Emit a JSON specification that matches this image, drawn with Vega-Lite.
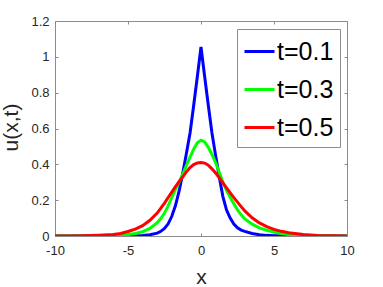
{
"$schema": "https://vega.github.io/schema/vega-lite/v6.json",
"width": 292, "height": 215,
"autosize": {"type": "none"},
"padding": {"left": 55, "top": 21, "right": 36, "bottom": 51},
"background": "white",
"config": {
  "font": "Liberation Sans",
  "view": {"stroke": null},
  "axis": {"grid": false, "domainColor": "#8c8c8c", "tickColor": "#8c8c8c", "tickSize": -3, "labelFontSize": 13, "labelFlush": false, "labelOverlap": false, "labelColor": "#262626", "titleColor": "#262626", "titleFontWeight": "normal", "titleFontSize": 21, "labelFont": "Liberation Sans", "titleFont": "Liberation Sans"}
},
"data": {"values": [
{"x":-10,"u":0,"t":"t=0.1"},{"x":-9,"u":0,"t":"t=0.1"},{"x":-8,"u":0,"t":"t=0.1"},{"x":-7,"u":0.0001,"t":"t=0.1"},{"x":-6,"u":0.0002,"t":"t=0.1"},{"x":-5.5,"u":0.0004,"t":"t=0.1"},{"x":-5,"u":0.0008,"t":"t=0.1"},{"x":-4.5,"u":0.0015,"t":"t=0.1"},{"x":-4,"u":0.003,"t":"t=0.1"},{"x":-3.5,"u":0.007,"t":"t=0.1"},{"x":-3,"u":0.016,"t":"t=0.1"},{"x":-2.75,"u":0.026,"t":"t=0.1"},{"x":-2.5,"u":0.042,"t":"t=0.1"},{"x":-2.25,"u":0.068,"t":"t=0.1"},{"x":-2,"u":0.11,"t":"t=0.1"},{"x":-1.75,"u":0.17,"t":"t=0.1"},{"x":-1.5,"u":0.25,"t":"t=0.1"},{"x":-1.25,"u":0.35,"t":"t=0.1"},{"x":-1,"u":0.46,"t":"t=0.1"},{"x":-0.75,"u":0.575,"t":"t=0.1"},{"x":-0.5,"u":0.73,"t":"t=0.1"},{"x":-0.25,"u":0.89,"t":"t=0.1"},{"x":0,"u":1.055,"t":"t=0.1"},{"x":0.25,"u":0.89,"t":"t=0.1"},{"x":0.5,"u":0.73,"t":"t=0.1"},{"x":0.75,"u":0.575,"t":"t=0.1"},{"x":1,"u":0.45,"t":"t=0.1"},{"x":1.25,"u":0.33,"t":"t=0.1"},{"x":1.5,"u":0.22,"t":"t=0.1"},{"x":1.75,"u":0.145,"t":"t=0.1"},{"x":2,"u":0.1,"t":"t=0.1"},{"x":2.25,"u":0.067,"t":"t=0.1"},{"x":2.5,"u":0.046,"t":"t=0.1"},{"x":2.75,"u":0.033,"t":"t=0.1"},{"x":3,"u":0.026,"t":"t=0.1"},{"x":3.5,"u":0.014,"t":"t=0.1"},{"x":4,"u":0.007,"t":"t=0.1"},{"x":4.5,"u":0.0035,"t":"t=0.1"},{"x":5,"u":0.0015,"t":"t=0.1"},{"x":5.5,"u":0.0008,"t":"t=0.1"},{"x":6,"u":0.0004,"t":"t=0.1"},{"x":7,"u":0.0001,"t":"t=0.1"},{"x":8,"u":0,"t":"t=0.1"},{"x":9,"u":0,"t":"t=0.1"},{"x":10,"u":0,"t":"t=0.1"},
{"x":-10,"u":0,"t":"t=0.3"},{"x":-9,"u":0.0001,"t":"t=0.3"},{"x":-8,"u":0.0003,"t":"t=0.3"},{"x":-7,"u":0.001,"t":"t=0.3"},{"x":-6,"u":0.003,"t":"t=0.3"},{"x":-5.5,"u":0.005,"t":"t=0.3"},{"x":-5,"u":0.008,"t":"t=0.3"},{"x":-4.5,"u":0.014,"t":"t=0.3"},{"x":-4,"u":0.024,"t":"t=0.3"},{"x":-3.5,"u":0.042,"t":"t=0.3"},{"x":-3,"u":0.075,"t":"t=0.3"},{"x":-2.75,"u":0.097,"t":"t=0.3"},{"x":-2.5,"u":0.128,"t":"t=0.3"},{"x":-2.25,"u":0.168,"t":"t=0.3"},{"x":-2,"u":0.215,"t":"t=0.3"},{"x":-1.75,"u":0.26,"t":"t=0.3"},{"x":-1.5,"u":0.3,"t":"t=0.3"},{"x":-1.25,"u":0.345,"t":"t=0.3"},{"x":-1,"u":0.395,"t":"t=0.3"},{"x":-0.75,"u":0.44,"t":"t=0.3"},{"x":-0.5,"u":0.485,"t":"t=0.3"},{"x":-0.25,"u":0.52,"t":"t=0.3"},{"x":0,"u":0.535,"t":"t=0.3"},{"x":0.25,"u":0.525,"t":"t=0.3"},{"x":0.5,"u":0.495,"t":"t=0.3"},{"x":0.75,"u":0.455,"t":"t=0.3"},{"x":1,"u":0.41,"t":"t=0.3"},{"x":1.25,"u":0.355,"t":"t=0.3"},{"x":1.5,"u":0.3,"t":"t=0.3"},{"x":1.75,"u":0.255,"t":"t=0.3"},{"x":2,"u":0.215,"t":"t=0.3"},{"x":2.25,"u":0.18,"t":"t=0.3"},{"x":2.5,"u":0.145,"t":"t=0.3"},{"x":2.75,"u":0.118,"t":"t=0.3"},{"x":3,"u":0.095,"t":"t=0.3"},{"x":3.5,"u":0.066,"t":"t=0.3"},{"x":4,"u":0.045,"t":"t=0.3"},{"x":4.5,"u":0.032,"t":"t=0.3"},{"x":5,"u":0.022,"t":"t=0.3"},{"x":5.5,"u":0.014,"t":"t=0.3"},{"x":6,"u":0.008,"t":"t=0.3"},{"x":7,"u":0.003,"t":"t=0.3"},{"x":8,"u":0.001,"t":"t=0.3"},{"x":9,"u":0,"t":"t=0.3"},{"x":10,"u":0,"t":"t=0.3"},
{"x":-10,"u":0.0003,"t":"t=0.5"},{"x":-9,"u":0.0006,"t":"t=0.5"},{"x":-8,"u":0.0015,"t":"t=0.5"},{"x":-7,"u":0.004,"t":"t=0.5"},{"x":-6,"u":0.008,"t":"t=0.5"},{"x":-5.5,"u":0.014,"t":"t=0.5"},{"x":-5,"u":0.025,"t":"t=0.5"},{"x":-4.5,"u":0.038,"t":"t=0.5"},{"x":-4,"u":0.058,"t":"t=0.5"},{"x":-3.5,"u":0.088,"t":"t=0.5"},{"x":-3,"u":0.128,"t":"t=0.5"},{"x":-2.75,"u":0.155,"t":"t=0.5"},{"x":-2.5,"u":0.184,"t":"t=0.5"},{"x":-2.25,"u":0.215,"t":"t=0.5"},{"x":-2,"u":0.245,"t":"t=0.5"},{"x":-1.75,"u":0.275,"t":"t=0.5"},{"x":-1.5,"u":0.303,"t":"t=0.5"},{"x":-1.25,"u":0.33,"t":"t=0.5"},{"x":-1,"u":0.358,"t":"t=0.5"},{"x":-0.75,"u":0.382,"t":"t=0.5"},{"x":-0.5,"u":0.399,"t":"t=0.5"},{"x":-0.25,"u":0.408,"t":"t=0.5"},{"x":0,"u":0.41,"t":"t=0.5"},{"x":0.25,"u":0.407,"t":"t=0.5"},{"x":0.5,"u":0.395,"t":"t=0.5"},{"x":0.75,"u":0.375,"t":"t=0.5"},{"x":1,"u":0.352,"t":"t=0.5"},{"x":1.25,"u":0.325,"t":"t=0.5"},{"x":1.5,"u":0.297,"t":"t=0.5"},{"x":1.75,"u":0.269,"t":"t=0.5"},{"x":2,"u":0.241,"t":"t=0.5"},{"x":2.25,"u":0.214,"t":"t=0.5"},{"x":2.5,"u":0.189,"t":"t=0.5"},{"x":2.75,"u":0.164,"t":"t=0.5"},{"x":3,"u":0.14,"t":"t=0.5"},{"x":3.5,"u":0.102,"t":"t=0.5"},{"x":4,"u":0.073,"t":"t=0.5"},{"x":4.5,"u":0.052,"t":"t=0.5"},{"x":5,"u":0.037,"t":"t=0.5"},{"x":5.5,"u":0.026,"t":"t=0.5"},{"x":6,"u":0.018,"t":"t=0.5"},{"x":7,"u":0.008,"t":"t=0.5"},{"x":8,"u":0.003,"t":"t=0.5"},{"x":9,"u":0.001,"t":"t=0.5"},{"x":10,"u":0.0003,"t":"t=0.5"}
]},
"layer": [
  {
    "mark": {"type": "point", "opacity": 0},
    "encoding": {
      "x": {"field": "x", "type": "quantitative", "scale": {"domain": [-10, 10], "nice": false},
            "axis": {"orient": "top", "labels": false, "title": null, "values": [-10, -5, 0, 5, 10]}},
      "y": {"field": "u", "type": "quantitative", "scale": {"domain": [0, 1.2], "nice": false},
            "axis": {"orient": "right", "labels": false, "title": null, "values": [0, 0.2, 0.4, 0.6, 0.8, 1, 1.2]}}
    }
  },
  {
    "mark": {"type": "line", "strokeWidth": 3, "clip": true},
    "encoding": {
      "x": {"field": "x", "type": "quantitative", "scale": {"domain": [-10, 10], "nice": false},
            "axis": {"orient": "bottom", "title": "x", "values": [-10, -5, 0, 5, 10], "labelExpr": "datum.value", "labelPadding": 11, "titleBaseline": "alphabetic", "titleY": 47}},
      "y": {"field": "u", "type": "quantitative", "scale": {"domain": [0, 1.2], "nice": false},
            "axis": {"orient": "left", "title": "u(x,t)", "values": [0, 0.2, 0.4, 0.6, 0.8, 1, 1.2], "labelExpr": "datum.value", "labelPadding": 9, "titleBaseline": "alphabetic", "titleX": -38, "titleY": 106}},
      "color": {"field": "t", "type": "nominal",
                "scale": {"domain": ["t=0.1", "t=0.3", "t=0.5"], "range": ["#0000ff", "#00ff00", "#ff0000"]},
                "legend": {"orient": "none", "legendX": 182, "legendY": 8, "title": null, "symbolType": "stroke", "symbolSize": 900, "symbolStrokeWidth": 3, "labelFontSize": 25, "labelColor": "black", "labelOffset": 1, "padding": 6, "rowPadding": 8, "strokeColor": "#8c8c8c", "fillColor": "white"}}
    }
  }
],
"resolve": {"axis": {"x": "independent", "y": "independent"}}
}
